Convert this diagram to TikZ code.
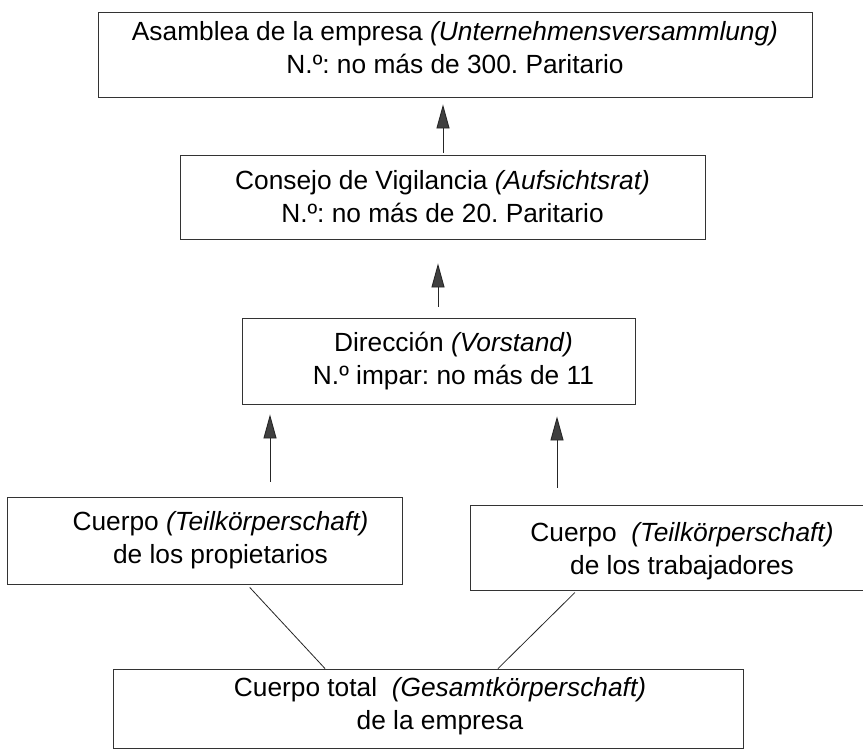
\documentclass[tikz,border=0pt]{standalone}
\usepackage{fontspec}
\setmainfont{Liberation Sans}
\usetikzlibrary{arrows.meta,calc}
\newcommand\shiftln[1]{\hspace*{#1}}
\begin{document}
\frenchspacing
\begin{tikzpicture}[x=1pt,y=-1pt,
  box/.style={draw=black!80, line width=0.9pt, inner sep=0pt, align=center,
    font=\fontsize{26.3}{33}\selectfont},
  arr/.style={draw=black!85, line width=0.9pt,
    -{Triangle[length=24pt,width=13pt,fill=black!75]}},
  link/.style={draw=black!85, line width=0.8pt}]
\useasboundingbox (0,0) rectangle (863,755);
\clip (0,0) rectangle (863,755);
\fill[white] (0,0) rectangle (863,755);

\node[box, minimum width=714pt, minimum height=85pt, text depth=14pt] (asam) at (455,54.5)
  {Asamblea de la empresa \textit{(Unternehmensversammlung)}\\N.º: no más de 300. Paritario};
\node[box, minimum width=525pt, minimum height=84pt] (cons) at (442.5,197)
  {Consejo de Vigilancia \textit{(Aufsichtsrat)}\\N.º: no más de 20. Paritario};
\node[box, minimum width=393pt, minimum height=86pt] (dir) at (438.5,361)
  {\shiftln{30pt}Dirección \textit{(Vorstand)}\\\shiftln{30pt}N.º impar: no más de 11};
\node[box, minimum width=395pt, minimum height=87pt] (pl) at (204.5,540.5)
  {\shiftln{32pt}Cuerpo \textit{(Teilkörperschaft)}\\\shiftln{32pt}de los propietarios};
\node[box, minimum width=410pt, minimum height=85pt, text height=60pt] (pt) at (675,547.5)
  {\shiftln{14pt}Cuerpo~ \textit{(Teilkörperschaft)}\\\shiftln{14pt}de los trabajadores};
\node[box, minimum width=630pt, minimum height=79pt, text depth=10pt] (tot) at (428,708.5)
  {\shiftln{24pt}Cuerpo total~ \textit{(Gesamtkörperschaft)}\\\shiftln{24pt}de la empresa};

\coordinate (xa) at (443,0);
\coordinate (xb) at (438,0);
\coordinate (xl) at (270,0);
\coordinate (xr) at (557,0);
\coordinate (l1) at (247,0);
\coordinate (l2) at (325,0);
\coordinate (r1) at (577,0);
\coordinate (r2) at (498,0);

\draw[arr, shorten <=2pt, shorten >=7pt] (cons.north -| xa) -- (asam.south -| xa);
\draw[arr, shorten <=11pt, shorten >=24pt] (dir.north -| xb) -- (cons.south -| xb);
\draw[arr, shorten <=15pt, shorten >=10pt] (pl.north -| xl) -- (dir.south -| xl);
\draw[arr, shorten <=17pt, shorten >=12pt] (pt.north -| xr) -- (dir.south -| xr);

\draw[link, shorten <=4pt] (pl.south -| l1) -- (tot.north -| l2);
\draw[link, shorten <=3pt] (pt.south -| r1) -- (tot.north -| r2);
\end{tikzpicture}
\end{document}
